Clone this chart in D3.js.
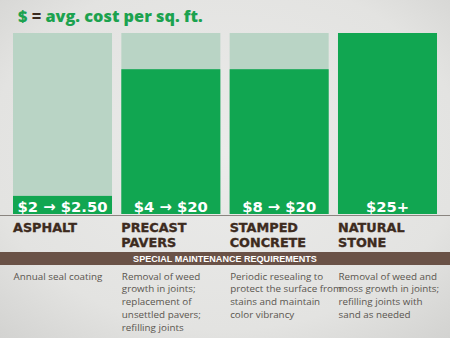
<!DOCTYPE html>
<html><head><meta charset="utf-8">
<script src="https://cdn.jsdelivr.net/npm/d3@7"></script>
<style>html,body{margin:0;padding:0;background:#e4e4e2;}svg{display:block;}</style>
</head><body>
<script>
const categories = ["ASPHALT", "PRECAST PAVERS", "STAMPED CONCRETE", "NATURAL STONE"];
const categoryLines = [["ASPHALT"], ["PRECAST", "PAVERS"], ["STAMPED", "CONCRETE"], ["NATURAL", "STONE"]];
const lowCost = [2, 4, 8, 25];
const highCost = [2.5, 20, 20, 25];
const priceLabels = ["$2 \u2192 $2.50", "$4 \u2192 $20", "$8 \u2192 $20", "$25+"];
const scaleMax = 25;
const maintenance = [
  ["Annual seal coating"],
  ["Removal of weed", "growth in joints;", "replacement of", "unsettled pavers;", "refilling joints"],
  ["Periodic resealing to", "protect the surface from", "stains and maintain", "color vibrancy"],
  ["Removal of weed and", "moss growth in joints;", "refilling joints with", "sand as needed"]
];
const bandTitle = "SPECIAL MAINTENANCE REQUIREMENTS";

const W = 450, H = 338;
const svg = d3.select("body").append("svg").attr("width", W).attr("height", H);
const defs = svg.append("defs");
const rg = defs.append("radialGradient").attr("id", "bg").attr("cx", "50%").attr("cy", "45%").attr("r", "75%");
rg.append("stop").attr("offset", "0%").attr("stop-color", "#ebebea");
rg.append("stop").attr("offset", "70%").attr("stop-color", "#e3e3e1");
rg.append("stop").attr("offset", "100%").attr("stop-color", "#d2d2d0");
svg.append("rect").attr("width", W).attr("height", H).attr("fill", "url(#bg)");

function fit(sel, target) {
  const n = sel.node();
  const base = parseFloat(sel.attr("font-size"));
  const len = n.getComputedTextLength();
  sel.attr("font-size", (base * target / len).toFixed(2));
}

// title
const title = svg.append("text").attr("x", 18).attr("y", 21.5)
  .attr("font-family", "'Open Sans'").attr("font-weight", 800).attr("font-size", 17).attr("fill", "#1ca24f");
title.append("tspan").text("$ ");
title.append("tspan").attr("fill", "#3a2a1e").text("=");
title.append("tspan").text(" avg. cost per sq. ft.");
fit(title, 185);

const x = d3.scaleBand().domain(categories).range([13, 437]).paddingInner(0.086);
const y = d3.scaleLinear().domain([0, scaleMax]).range([214, 33]);

const g = svg.append("g");
g.selectAll("rect.bgbar").data(categories).join("rect").attr("class", "bgbar")
  .attr("x", d => x(d)).attr("width", x.bandwidth())
  .attr("y", y(scaleMax)).attr("height", y(0) - y(scaleMax)).attr("fill", "#b9d4c5");
g.selectAll("rect.bar").data(categories).join("rect").attr("class", "bar")
  .attr("x", d => x(d)).attr("width", x.bandwidth())
  .attr("y", (d, i) => y(highCost[i])).attr("height", (d, i) => y(0) - y(highCost[i])).attr("fill", "#11a651");

const pl = g.selectAll("text.price").data(categories).join("text").attr("class", "price")
  .attr("x", d => x(d) + x.bandwidth() / 2).attr("y", 211.5).attr("text-anchor", "middle")
  .attr("font-family", "DejaVu Sans").attr("font-weight", "bold").attr("font-size", 15).attr("fill", "#ffffff")
  .text((d, i) => priceLabels[i]);
fit(d3.select(pl.nodes()[0]), 90);
pl.attr("font-size", d3.select(pl.nodes()[0]).attr("font-size"));

svg.append("line").attr("x1", 0).attr("x2", W).attr("y1", 215.5).attr("y2", 215.5)
  .attr("stroke", "#8a8580").attr("stroke-width", 1);

// category labels
const cl = svg.selectAll("text.cat").data(categories).join("text").attr("class", "cat")
  .attr("x", d => x(d)).attr("y", 232)
  .attr("font-family", "DejaVu Sans").attr("font-weight", "bold").attr("font-size", 12.8).attr("fill", "#3d2b1e")
  .attr("stroke", "#3d2b1e").attr("stroke-width", 0.35);
cl.selectAll("tspan").data((d, i) => categoryLines[i]).join("tspan")
  .attr("x", function () { return d3.select(this.parentNode).attr("x"); })
  .attr("dy", (d, j) => j === 0 ? 0 : 15).text(d => d);

// band
svg.append("rect").attr("x", 0).attr("width", W).attr("y", 252).attr("height", 13).attr("fill", "#6a5247");
const bt = svg.append("text").attr("x", 225).attr("y", 262.3).attr("text-anchor", "middle")
  .attr("font-family", "Liberation Sans").attr("font-weight", "bold").attr("font-size", 10).attr("fill", "#ffffff")
  .text(bandTitle);
fit(bt, 184);

// descriptions
const ds = svg.selectAll("text.desc").data(categories).join("text").attr("class", "desc")
  .attr("x", d => x(d) + 0.5).attr("y", 279.5)
  .attr("font-family", "'Open Sans'").attr("font-size", 11).attr("fill", "#5a554f");
ds.selectAll("tspan").data((d, i) => maintenance[i]).join("tspan")
  .attr("x", function () { return d3.select(this.parentNode).attr("x"); })
  .attr("dy", (d, j) => j === 0 ? 0 : 12.8).text(d => d);
const first = d3.select(ds.nodes()[0]);
fit(first, 89);
ds.attr("font-size", first.attr("font-size"));
</script>
</body></html>
